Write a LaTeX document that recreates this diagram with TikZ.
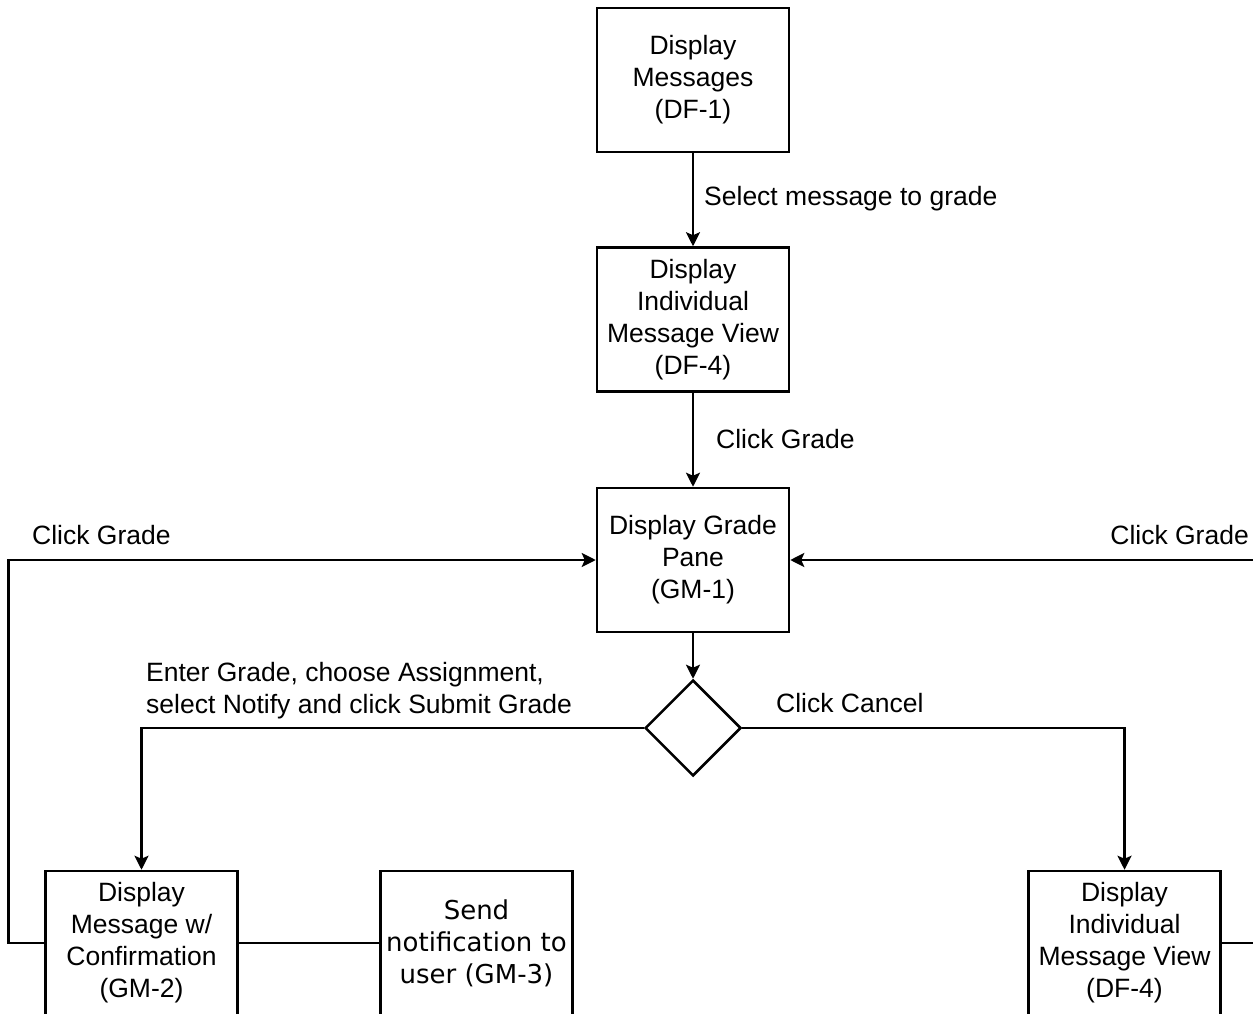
\documentclass[tikz,border=0pt]{standalone}
\usepackage{fontspec}
\setmainfont{Liberation Sans}
\newfontfamily\djv{DejaVu Sans}
\usetikzlibrary{arrows.meta,shapes.geometric}
\begin{document}
\begin{tikzpicture}[x=1pt,y=-1pt,
  every node/.style={font=\fontsize{26.5}{32}\selectfont},
  boxnode/.style={draw,line width=2.5pt,minimum width=192pt,minimum height=144pt,align=center,inner sep=0pt},
  lbl/.style={inner sep=0pt,align=left},
  conn/.style={line width=2.5pt},
  arr/.style={conn,-{Stealth[length=14pt,width=14pt,inset=3pt]}}]
\clip (0,0) rectangle (1253,1014);
\useasboundingbox (0,0) rectangle (1253,1014);
\fill[white] (0,0) rectangle (1253,1014);
\node[boxnode] (df1) at (693,80) {Display\\Messages\\(DF-1)};
\node[boxnode] (df4) at (693,319.5) {Display\\Individual\\Message View\\(DF-4)};
\node[boxnode] (gm1) at (693,560) {Display Grade\\Pane\\(GM-1)};
\node[draw,diamond,line width=2.5pt,minimum width=96pt,minimum height=96pt,inner sep=0pt] (dia) at (693,728) {};
\node[boxnode] (gm2) at (141.5,943) {Display\\Message w/\\Confirmation\\(GM-2)};
\node[boxnode,font=\djv\fontsize{26}{32}\selectfont] (gm3) at (476.5,943) {Send\\notification to\\user (GM-3)};
\node[boxnode] (df4b) at (1124.5,943) {Display\\Individual\\Message View\\(DF-4)};
\coordinate (rc) at (1268,943);
\draw[arr] (df1) -- (df4);
\draw[arr] (df4) -- (gm1);
\draw[arr] (gm1) -- (dia);
\draw[arr] (dia.west) -| (gm2.north);
\draw[arr] (dia.east) -| (df4b.north);
\draw[conn] (gm2.east) -- (gm3.west);
\draw[arr] (gm2.west) -- ++(-36,0) |- (gm1.west);
\draw[arr] (df4b.east) -- (rc) |- (gm1.east);
\node[lbl,anchor=west] (l1) at (704,199) {Select message to grade};
\node[lbl,anchor=west] (l2) at (716,439) {Click Grade};
\node[lbl,anchor=west] (l3) at (32,535) {Click Grade};
\node[lbl,anchor=east] (l4) at (1249,535) {Click Grade};
\node[lbl,anchor=west] (l5) at (146,691) {Enter Grade, choose Assignment,\\select Notify and click Submit Grade};
\node[lbl,anchor=west] (l6) at (776,703) {Click Cancel};
\end{tikzpicture}
\end{document}
